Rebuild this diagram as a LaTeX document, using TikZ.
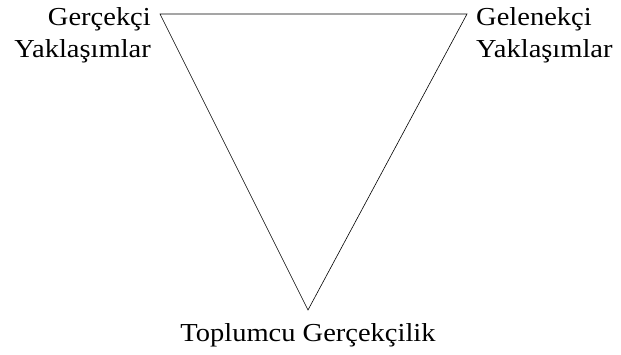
\documentclass[tikz,border=0pt]{standalone}
\usepackage{fontspec}
\setmainfont{Liberation Serif}[FakeStretch=1.1]
\begin{document}
\begin{tikzpicture}[x=1bp,y=-1bp,
  lbl/.style={inner sep=0pt, font=\fontsize{26}{33}\selectfont},
  edge/.style={draw=black, line width=0.6bp}]
\useasboundingbox (0,0) rectangle (621,354);
\coordinate (tl) at (160,14);
\coordinate (tr) at (467,14);
\coordinate (bt) at (308,310);
\draw[edge] (tl) -- (tr) -- (bt) -- cycle;
\node[lbl, anchor=base east] (gl) at (151,25) {Gerçekçi};
\node[lbl, anchor=base east] (yl) at (151,57) {Yaklaşımlar};
\node[lbl, anchor=base west] (gr) at (476,25) {Gelenekçi};
\node[lbl, anchor=base west] (yr) at (476,57) {Yaklaşımlar};
\node[lbl, anchor=base] (tg) at (308,341) {Toplumcu Gerçekçilik};
\end{tikzpicture}
\end{document}
